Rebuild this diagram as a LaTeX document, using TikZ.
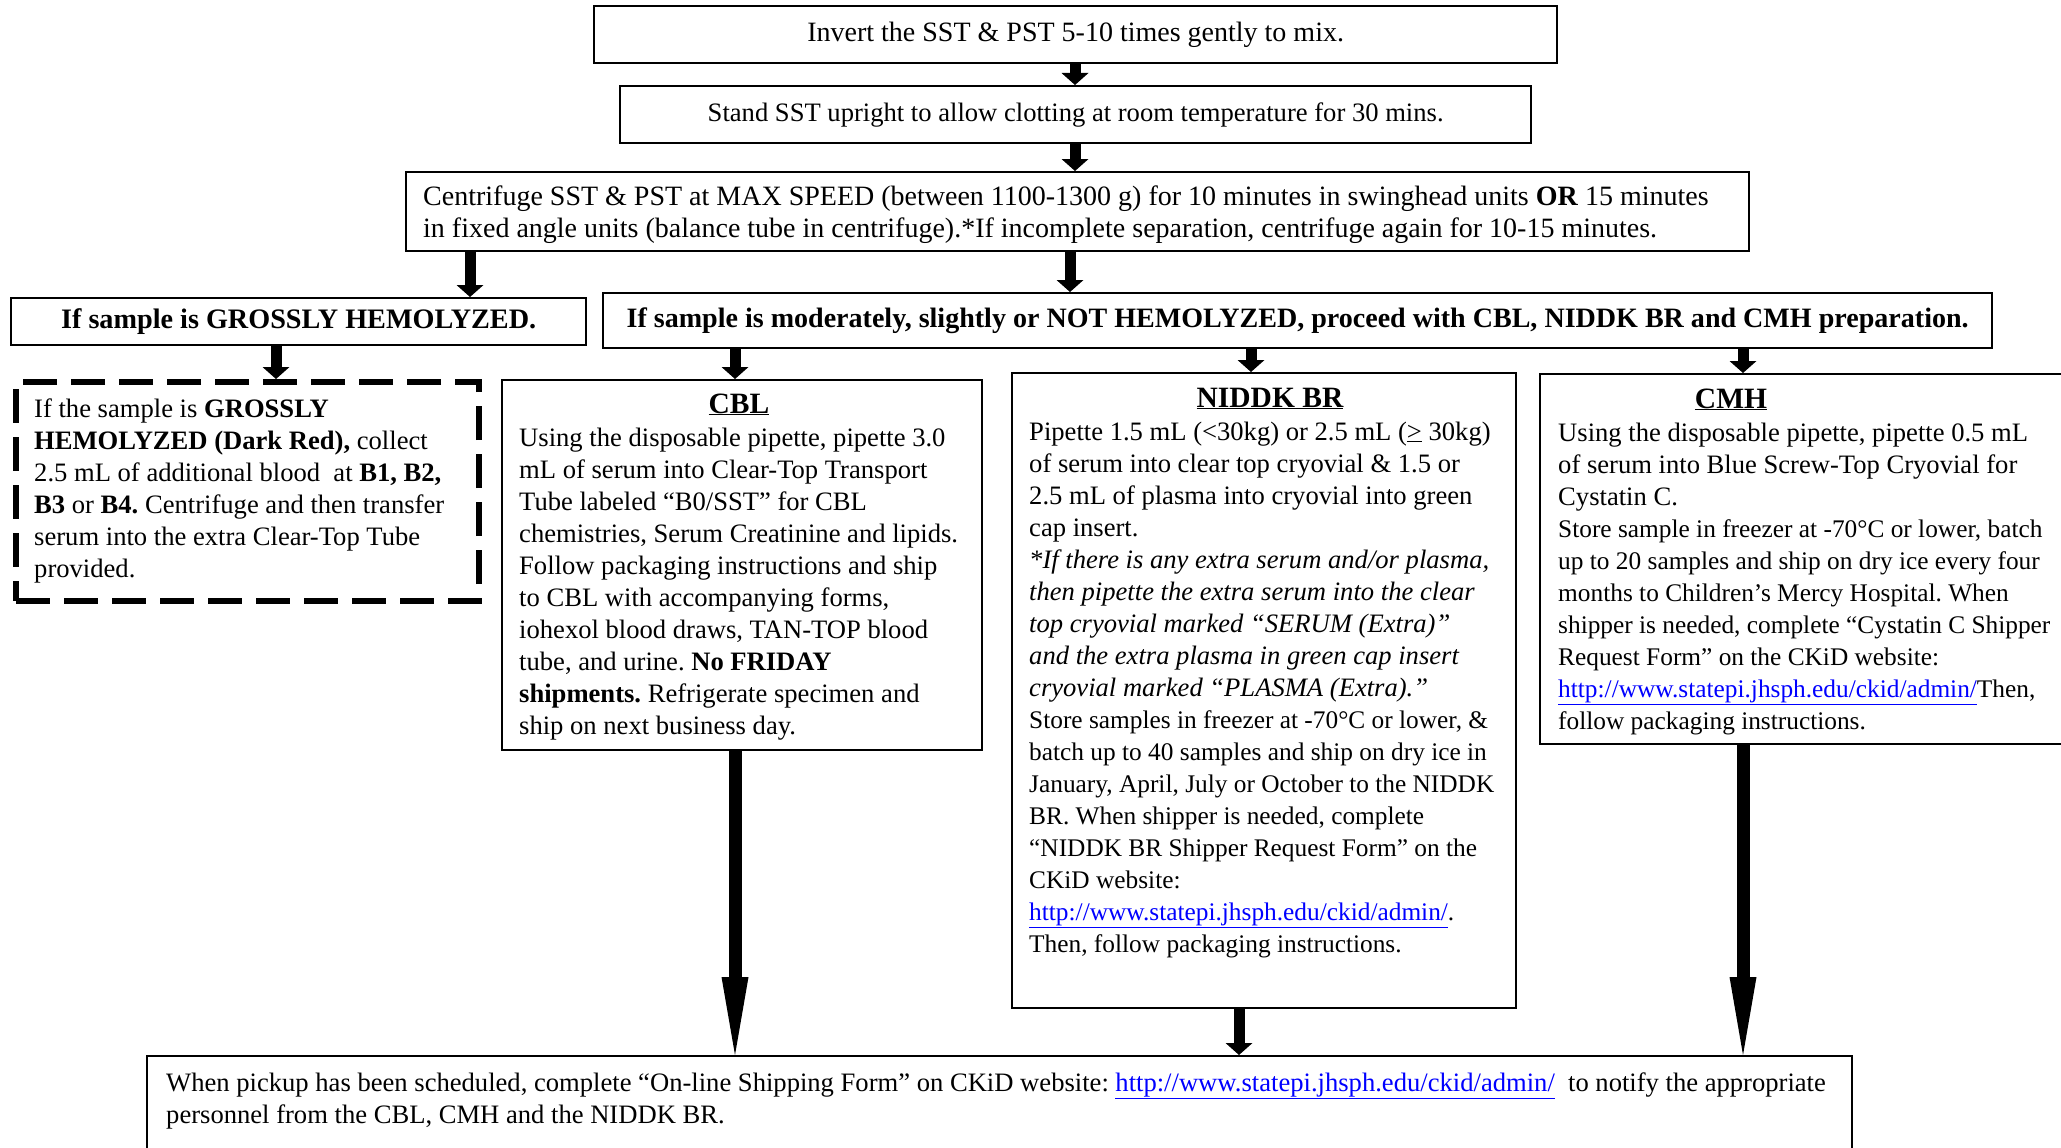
\documentclass[tikz,border=0pt]{standalone}
\usepackage{fontspec}
\setmainfont{Liberation Serif}
\usetikzlibrary{arrows.meta}
\definecolor{linkblue}{RGB}{0,0,255}
\newcommand{\lnk}[1]{\textcolor{linkblue}{\underline{#1}}}
\newcommand{\ttl}[1]{{\fontsize{29.5}{32}\selectfont\textbf{\underline{#1}}}}
\newcommand{\blk}[1]{\parbox[t]{1900pt}{\raggedright #1}}
\newcommand{\smallpart}{\fontsize{25.35}{32}\selectfont}
\begin{document}
\frenchspacing
\begin{tikzpicture}[x=1pt,y=-1pt,
  every node/.style={font=\fontsize{26.6}{32}\selectfont\frenchspacing, inner sep=0pt},
  box/.style={draw, line width=2.3pt, anchor=north west},
  hbox/.style={box, font=\fontsize{28.2}{32}\selectfont\bfseries},
  dbox/.style={draw, line width=6pt, dash pattern=on 34pt off 14pt, anchor=north west},
  txt/.style={anchor=base west},
  ttlnode/.style={anchor=base},
  sarrow/.style={line width=11pt, -{Triangle[width=27pt,length=12pt,line width=0pt]}},
  larrow/.style={line width=13pt, -{Triangle[width=27pt,length=78pt,line width=0pt]}},
]
\useasboundingbox (0,0) rectangle (2061,1148);

% boxes
\node[box, minimum width=963pt, minimum height=57pt, font=\fontsize{28}{32}\selectfont] (b1) at (593,5) {Invert the SST \& PST 5-10 times gently to mix.};
\node[box, minimum width=911pt, minimum height=57pt] (b2) at (619,85) {Stand SST upright to allow clotting at room temperature for 30 mins.};
\node[box, minimum width=1343pt, minimum height=79pt] (b3) at (405,171) {};
\node[txt, font=\fontsize{28}{32}\selectfont] (t3) at (423,205) {\blk{Centrifuge SST \& PST at MAX SPEED (between 1100-1300 g) for 10 minutes in swinghead units \textbf{OR} 15 minutes\\
in fixed angle units (balance tube in centrifuge).*If incomplete separation, centrifuge again for 10-15 minutes.}};
\node[hbox, minimum width=575pt, minimum height=47pt] (b4) at (10,297) {If sample is GROSSLY HEMOLYZED.};
\node[hbox, minimum width=1389pt, minimum height=55pt, font=\fontsize{28.05}{32}\selectfont\bfseries] (b5) at (602,292) {If sample is moderately, slightly or NOT HEMOLYZED, proceed with CBL, NIDDK BR and CMH preparation.};

\node[dbox, minimum width=463pt, minimum height=219pt] (gh) at (13,379) {};
\node[txt] (tgh) at (34,417) {\blk{If the sample is \textbf{GROSSLY}\\
\textbf{HEMOLYZED (Dark Red),} collect\\
2.5 mL of additional blood\ \ at \textbf{B1, B2,}\\
\textbf{B3} or \textbf{B4.} Centrifuge and then transfer\\
serum into the extra Clear-Top Tube\\
provided.}};

\node[box, minimum width=480pt, minimum height=370pt] (cbl) at (501,379) {};
\node[ttlnode] (tcbl0) at (739,413) {\ttl{CBL}};
\node[txt] (tcbl) at (519,446) {\blk{Using the disposable pipette, pipette 3.0\\
mL of serum into Clear-Top Transport\\
Tube labeled “B0/SST” for CBL\\
chemistries, Serum Creatinine and lipids.\\
Follow packaging instructions and ship\\
to CBL with accompanying forms,\\
iohexol blood draws, TAN-TOP blood\\
tube, and urine. \textbf{No FRIDAY}\\
\textbf{shipments.} Refrigerate specimen and\\
ship on next business day.}};

\node[box, minimum width=504pt, minimum height=635pt] (nid) at (1011,372) {};
\node[ttlnode] (tnid0) at (1270,407) {\ttl{NIDDK BR}};
\node[txt] (tnid) at (1029,440) {\blk{Pipette 1.5 mL (<30kg) or 2.5 mL (\underline{>} 30kg)\\
of serum into clear top cryovial \& 1.5 or\\
2.5 mL of plasma into cryovial into green\\
cap insert.\\
{\itshape *If there is any extra serum and/or plasma,\\
then pipette the extra serum into the clear\\
top cryovial marked “SERUM (Extra)”\\
and the extra plasma in green cap insert\\
cryovial marked “PLASMA (Extra).”}\\
{\smallpart Store samples in freezer at -70°C or lower, \&\\
batch up to 40 samples and ship on dry ice in\\
January, April, July or October to the NIDDK\\
BR. When shipper is needed, complete\\
“NIDDK BR Shipper Request Form” on the\\
CKiD website:\\
\lnk{http://www.statepi.jhsph.edu/ckid/admin/}.\\
Then, follow packaging instructions.}}};

\node[box, minimum width=540pt, minimum height=370pt] (cmh) at (1539,373) {};
\node[ttlnode] (tcmh0) at (1731,408) {\ttl{CMH}};
\node[txt] (tcmh) at (1558,441) {\blk{Using the disposable pipette, pipette 0.5 mL\\
of serum into Blue Screw-Top Cryovial for\\
Cystatin C.\\
{\smallpart Store sample in freezer at -70°C or lower, batch\\
up to 20 samples and ship on dry ice every four\\
months to Children’s Mercy Hospital. When\\
shipper is needed, complete “Cystatin C Shipper\\
Request Form” on the CKiD website:\\
\lnk{http://www.statepi.jhsph.edu/ckid/admin/}Then,\\
follow packaging instructions.}}};

\node[box, minimum width=1705pt, minimum height=120pt] (bot) at (146,1055) {};
\node[txt] (tbot) at (166,1091) {\blk{When pickup has been scheduled, complete “On-line Shipping Form” on CKiD website: \lnk{http://www.statepi.jhsph.edu/ckid/admin/}\ \ to notify the appropriate\\
personnel from the CBL, CMH and the NIDDK BR.}};

% x positions of connectors
\coordinate (xa) at (1075,0);
\coordinate (xb) at (470,0);
\coordinate (xc) at (1070,0);
\coordinate (xd) at (276,0);
\coordinate (xe) at (735,0);
\coordinate (xf) at (1251,0);
\coordinate (xg) at (1743,0);
\coordinate (xh) at (1239,0);

\draw[sarrow] (b1.south -| xa) -- (b2.north -| xa);
\draw[sarrow] (b2.south -| xa) -- (b3.north -| xa);
\draw[sarrow] (b3.south -| xb) -- (b4.north -| xb);
\draw[sarrow] (b3.south -| xc) -- (b5.north -| xc);
\draw[sarrow] (b4.south -| xd) -- (gh.north -| xd);
\draw[sarrow] (b5.south -| xe) -- (cbl.north -| xe);
\draw[sarrow] (b5.south -| xf) -- (nid.north -| xf);
\draw[sarrow] (b5.south -| xg) -- (cmh.north -| xg);
\draw[larrow] (cbl.south -| xe) -- (bot.north -| xe);
\draw[sarrow] (nid.south -| xh) -- (bot.north -| xh);
\draw[larrow] (cmh.south -| xg) -- (bot.north -| xg);
\end{tikzpicture}
\end{document}
